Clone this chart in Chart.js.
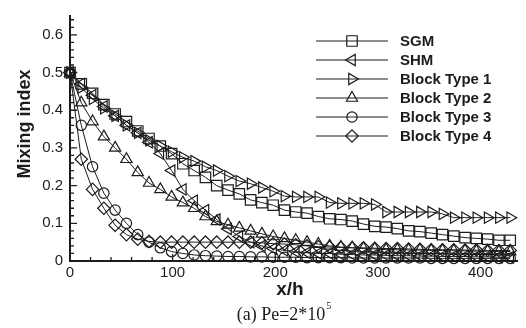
<!DOCTYPE html>
<html>
<head>
<meta charset="utf-8">
<script src="https://cdn.jsdelivr.net/npm/chart.js@4.4.1/dist/chart.umd.min.js"></script>
<style>
  html, body { margin: 0; padding: 0; background: #fff; overflow: hidden; }
  #wrap { width: 526px; height: 328px; position: relative; }
</style>
</head>
<body>
<div id="wrap"><canvas id="chart" width="526" height="328"></canvas></div>
<script>
// x/h stations shared by all curves
const X_VALUES = [0, 11, 22, 33, 44, 55, 66, 77, 88, 99, 110, 121, 132, 143, 154, 165, 176, 187, 198, 209,
  220, 231, 242, 253, 264, 275, 286, 297, 308, 319, 330, 341, 352, 363, 374, 385, 396, 407, 418, 429];

const SGM = [0.50, 0.47, 0.445, 0.415, 0.39, 0.37, 0.345, 0.325, 0.305, 0.285, 0.258, 0.24, 0.222, 0.20, 0.188,
  0.178, 0.162, 0.155, 0.148, 0.135, 0.13, 0.127, 0.118, 0.112, 0.11, 0.106, 0.098, 0.092, 0.09, 0.086,
  0.08, 0.078, 0.074, 0.07, 0.066, 0.062, 0.06, 0.058, 0.055, 0.055];

const SHM = [0.50, 0.47, 0.44, 0.41, 0.385, 0.36, 0.34, 0.315, 0.285, 0.24, 0.19, 0.16, 0.135, 0.11, 0.085,
  0.065, 0.05, 0.04, 0.033, 0.028, 0.025, 0.022, 0.02, 0.02, 0.018, 0.017, 0.016, 0.016, 0.015, 0.014,
  0.014, 0.013, 0.013, 0.012, 0.012, 0.012, 0.011, 0.011, 0.01, 0.01];

const BLOCK_1 = [0.50, 0.46, 0.43, 0.405, 0.385, 0.36, 0.34, 0.32, 0.305, 0.29, 0.275, 0.265, 0.25, 0.24, 0.225,
  0.212, 0.205, 0.195, 0.185, 0.172, 0.17, 0.17, 0.17, 0.155, 0.153, 0.153, 0.153, 0.15, 0.13, 0.13,
  0.13, 0.13, 0.13, 0.125, 0.115, 0.115, 0.115, 0.115, 0.115, 0.115];

const BLOCK_2 = [0.50, 0.42, 0.37, 0.33, 0.30, 0.27, 0.235, 0.207, 0.19, 0.17, 0.155, 0.14, 0.118, 0.105, 0.096,
  0.088, 0.08, 0.072, 0.065, 0.06, 0.055, 0.05, 0.045, 0.04, 0.037, 0.035, 0.033, 0.032, 0.03, 0.03,
  0.029, 0.029, 0.028, 0.028, 0.027, 0.027, 0.026, 0.026, 0.025, 0.025];

const BLOCK_3 = [0.50, 0.36, 0.25, 0.18, 0.135, 0.10, 0.07, 0.05, 0.035, 0.025, 0.02, 0.016, 0.014, 0.013, 0.012,
  0.012, 0.011, 0.011, 0.01, 0.01, 0.01, 0.009, 0.009, 0.009, 0.009, 0.008, 0.008, 0.008, 0.008, 0.008,
  0.008, 0.008, 0.007, 0.007, 0.007, 0.007, 0.007, 0.007, 0.007, 0.007];

const BLOCK_4 = [0.50, 0.27, 0.19, 0.14, 0.095, 0.07, 0.058, 0.052, 0.05, 0.05, 0.05, 0.05, 0.05, 0.05, 0.05,
  0.05, 0.05, 0.048, 0.046, 0.045, 0.043, 0.04, 0.038, 0.037, 0.036, 0.035, 0.035, 0.034, 0.033, 0.033,
  0.032, 0.031, 0.03, 0.03, 0.03, 0.029, 0.029, 0.028, 0.028, 0.028];

const SERIES_LABELS = ['SGM', 'SHM', 'Block Type 1', 'Block Type 2', 'Block Type 3', 'Block Type 4'];
const X_TICKS = [0, 100, 200, 300, 400];
const Y_TICKS = [0, 0.1, 0.2, 0.3, 0.4, 0.5, 0.6];

const INK = '#1c1c1c';
const SANS = '"Liberation Sans", Arial, sans-serif';
const SERIF = '"Liberation Serif", "Times New Roman", serif';

// marker look per series: square, left/right triangles, up triangle, circle, diamond
const MARKERS = [
  { pointStyle: 'rect', rotation: 0, radius: 7.4 },
  { pointStyle: 'triangle', rotation: -90, radius: 6.5 },
  { pointStyle: 'triangle', rotation: 90, radius: 6.5 },
  { pointStyle: 'triangle', rotation: 0, radius: 6.5 },
  { pointStyle: 'circle', rotation: 0, radius: 5.2 },
  { pointStyle: 'rectRot', rotation: 0, radius: 6.2 }
];

const SERIES = [SGM, SHM, BLOCK_1, BLOCK_2, BLOCK_3, BLOCK_4];

function toPoints(values) {
  return values.map((y, i) => ({ x: X_VALUES[i], y }));
}

// Tecplot-style inward ticks (major + minor) on the left and bottom axes
const inwardTicks = {
  id: 'inwardTicks',
  afterDraw(chart) {
    const { ctx, chartArea, scales } = chart;
    const xs = scales.x, ys = scales.y;
    ctx.save();
    ctx.strokeStyle = INK;
    ctx.lineWidth = 1.3;
    ctx.beginPath();
    for (let v = 0; v <= xs.max + 1e-6; v += 20) {
      const px = xs.getPixelForValue(v);
      const len = X_TICKS.includes(v) ? 7 : 4;
      ctx.moveTo(px, chartArea.bottom);
      ctx.lineTo(px, chartArea.bottom - len);
    }
    for (let k = 0; k * 0.02 <= ys.max + 1e-6; k++) {
      const py = ys.getPixelForValue(k * 0.02);
      const len = k % 5 === 0 ? 7 : 4;
      ctx.moveTo(chartArea.left, py);
      ctx.lineTo(chartArea.left + len, py);
    }
    ctx.stroke();
    ctx.restore();
  }
};

// axis titles + caption below the plot
const titles = {
  id: 'titles',
  afterDraw(chart) {
    const { ctx } = chart;
    ctx.save();
    ctx.fillStyle = INK;
    ctx.textAlign = 'center';
    ctx.textBaseline = 'middle';

    ctx.save();
    ctx.translate(25, 124);
    ctx.rotate(-Math.PI / 2);
    ctx.font = 'bold 18px ' + SANS;
    ctx.fillText('Mixing index', 0, 0);
    ctx.restore();

    ctx.font = 'bold 19px ' + SANS;
    ctx.fillText('x/h', 290, 290);

    ctx.textAlign = 'left';
    ctx.textBaseline = 'alphabetic';
    ctx.font = '18px ' + SERIF;
    const cap = '(a) Pe=2*10';
    const w = ctx.measureText(cap).width;
    const x0 = 281 - w / 2;
    ctx.fillText(cap, x0, 320);
    ctx.font = '10px ' + SERIF;
    ctx.fillText('5', x0 + w + 1, 309);
    ctx.restore();
  }
};

// legend drawn as line-through-marker rows, Tecplot style
const lineLegend = {
  id: 'lineLegend',
  afterDraw(chart) {
    const { ctx } = chart;
    ctx.save();
    chart.data.datasets.forEach((ds, i) => {
      const y = 41 + i * 19;
      ctx.strokeStyle = INK;
      ctx.lineWidth = 1.1;
      ctx.beginPath();
      ctx.moveTo(316, y);
      ctx.lineTo(388, y);
      ctx.stroke();
      ctx.fillStyle = 'rgba(0,0,0,0)';
      ctx.lineWidth = 1.2;
      Chart.helpers.drawPoint(ctx, {
        pointStyle: ds.pointStyle,
        rotation: ds.pointRotation,
        radius: ds.pointRadius,
        borderWidth: 1.2
      }, 352, y);
      ctx.fillStyle = INK;
      ctx.font = 'bold 15px ' + SANS;
      ctx.textAlign = 'left';
      ctx.textBaseline = 'middle';
      ctx.fillText(ds.label, 400, y + 1);
    });
    ctx.restore();
  }
};

const datasets = SERIES.map((values, i) => ({
  label: SERIES_LABELS[i],
  data: toPoints(values),
  borderColor: INK,
  borderWidth: 1,
  pointStyle: MARKERS[i].pointStyle,
  pointRotation: MARKERS[i].rotation,
  pointRadius: MARKERS[i].radius,
  pointBorderColor: INK,
  pointBackgroundColor: 'rgba(0,0,0,0)',
  pointBorderWidth: 1.2,
  tension: 0,
  clip: false
}));

new Chart(document.getElementById('chart'), {
  type: 'line',
  data: { datasets },
  options: {
    responsive: false,
    animation: false,
    layout: { padding: { top: 10, right: 0, bottom: 0, left: 0 } },
    scales: {
      x: {
        type: 'linear',
        min: 0,
        max: 436,
        afterBuildTicks: (s) => { s.ticks = X_TICKS.map(v => ({ value: v })); },
        afterFit: (s) => { s.height = 67; },
        grid: { display: false, drawTicks: false },
        border: { display: true, color: INK, width: 2 },
        ticks: { color: INK, font: { family: SANS, size: 15 }, padding: 3, maxRotation: 0, autoSkip: false }
      },
      y: {
        type: 'linear',
        min: 0,
        max: 0.65,
        afterBuildTicks: (s) => { s.ticks = Y_TICKS.map(v => ({ value: v })); },
        afterFit: (s) => { s.width = 70; },
        grid: { display: false, drawTicks: false },
        border: { display: true, color: INK, width: 2 },
        ticks: {
          color: INK,
          font: { family: SANS, size: 15 },
          padding: 7,
          callback: (v) => (v === 0 ? '0' : v.toFixed(1))
        }
      }
    },
    plugins: {
      legend: { display: false },
      tooltip: { enabled: false }
    }
  },
  plugins: [inwardTicks, titles, lineLegend]
});
</script>
</body>
</html>
